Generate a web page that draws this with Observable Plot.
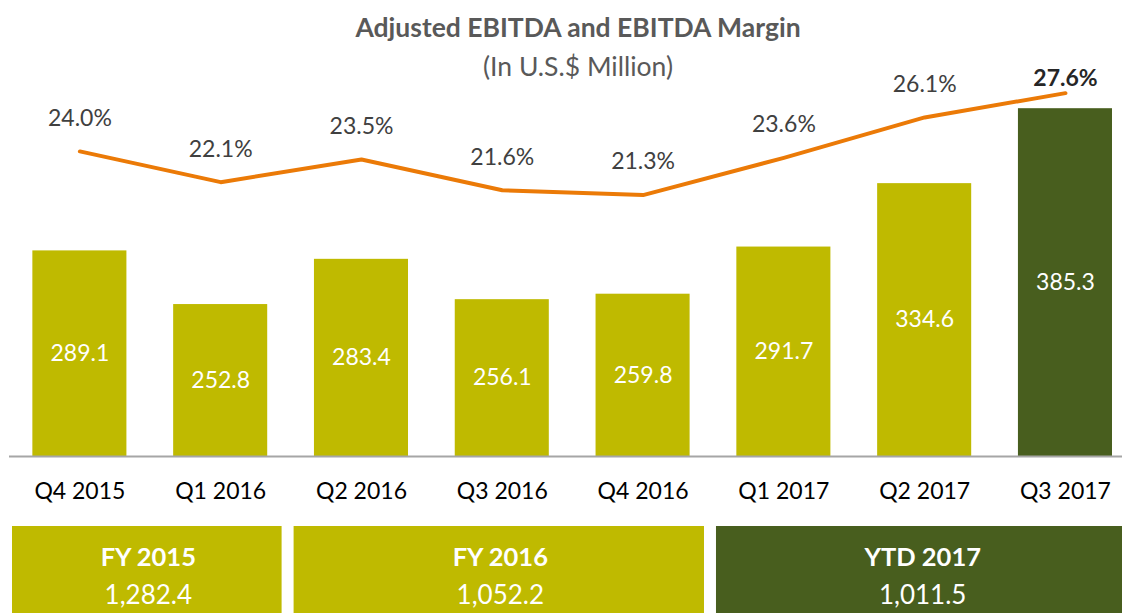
<!DOCTYPE html>
<html>
<head>
<meta charset="utf-8">
<script src="https://cdn.jsdelivr.net/npm/d3@7"></script>
<script src="https://cdn.jsdelivr.net/npm/@observablehq/plot@0.6"></script>
<style>
  html, body { margin: 0; padding: 0; background: #fff; }
  #wrap { position: relative; width: 1122px; height: 613px; overflow: hidden; font-family: Lato, "Open Sans", sans-serif; }
  #title { position: absolute; left: 0; width: 1156px; top: 11px; text-align: center; color: #595959; font-weight: bold; font-size: 26.5px; line-height: 32px; }
  #subtitle { position: absolute; left: 0; width: 1156px; top: 50px; text-align: center; color: #595959; font-size: 26.5px; line-height: 32px; }
  #main, #boxes { display: block; }
  svg { display: block; }
</style>
</head>
<body>
<div id="wrap">
  <div id="main"></div>
  <div id="boxes"></div>
  <div id="title">Adjusted EBITDA and EBITDA Margin</div>
  <div id="subtitle">(In U.S.$ Million)</div>
</div>
<script>
// ---- data ----
const quarters = ["Q4 2015", "Q1 2016", "Q2 2016", "Q3 2016", "Q4 2016", "Q1 2017", "Q2 2017", "Q3 2017"];
const ebitda = [289.1, 252.8, 283.4, 256.1, 259.8, 291.7, 334.6, 385.3];
const margin = [24.0, 22.1, 23.5, 21.6, 21.3, 23.6, 26.1, 27.6];
const highlightQuarter = "Q3 2017";

const periods = ["FY 2015", "FY 2016", "YTD 2017"];
const periodTotals = [1282.4, 1052.2, 1011.5];
// quarters under which each summary box sits
const boxFirstQuarter = ["Q4 2015", "Q2 2016", "Q1 2017"];
const boxLastQuarter = ["Q1 2016", "Q4 2016", "Q3 2017"];
const highlightPeriod = "YTD 2017";

// ---- styles ----
const OLIVE = "#bfba00";
const DARK = "#485e1e";
const ORANGE = "#eb7a07";
const FONT = "Lato, 'Open Sans', sans-serif";

const rows = quarters.map((q, i) => ({quarter: q, ebitda: ebitda[i], margin: margin[i]}));
const base = 150;
// secondary (margin %) axis expressed on the primary EBITDA scale
const marginToY = d3.scaleLinear().domain([20, 28]).range([312.6, 400.2]);

const main = Plot.plot({
  width: 1122,
  height: 526,
  marginTop: 0,
  marginLeft: 9,
  marginRight: 0,
  marginBottom: 70,
  style: {fontFamily: FONT, background: "white", overflow: "visible"},
  x: {domain: quarters, paddingInner: 0.332, paddingOuter: 0.1185, align: 0.7, round: false, label: null},
  y: {domain: [base, 458.5], axis: null},
  marks: [
    Plot.barY(rows, {x: "quarter", y1: base, y2: "ebitda", fill: d => d.quarter === highlightQuarter ? DARK : OLIVE}),
    Plot.ruleY([base], {stroke: "#a6a6a6", strokeWidth: 2}),
    Plot.axisX({tickSize: 0, tickPadding: 26, fontSize: 23, fill: "#000", label: null}),
    Plot.text(rows, {x: "quarter", y: d => (base + d.ebitda) / 2, text: d => d.ebitda.toFixed(1), fill: "white", fontSize: 23}),
    Plot.line(rows, {x: "quarter", y: d => marginToY(d.margin), stroke: ORANGE, strokeWidth: 4, strokeLinecap: "round", strokeLinejoin: "round"}),
    Plot.text(rows.filter(d => d.quarter !== highlightQuarter), {x: "quarter", y: d => marginToY(d.margin), dy: -33, text: d => d.margin.toFixed(1) + "%", fill: "#404040", fontSize: 23}),
    Plot.text(rows.filter(d => d.quarter === highlightQuarter), {x: "quarter", y: d => marginToY(d.margin), dy: -15, text: d => d.margin.toFixed(1) + "%", fill: "#262626", fontSize: 23, fontWeight: "bold"})
  ]
});
document.getElementById("main").append(main);

const prow = periods.map((p, i) => ({
  period: p,
  total: periodTotals[i],
  x1: quarters.indexOf(boxFirstQuarter[i]) - 0.5,
  x2: quarters.indexOf(boxLastQuarter[i]) + 0.5
}));

const boxes = Plot.plot({
  width: 1122,
  height: 87,
  marginTop: 0,
  marginBottom: 0,
  marginLeft: 9,
  marginRight: 0,
  style: {fontFamily: FONT, background: "white"},
  x: {domain: [-0.5, 7.405], axis: null},
  y: {axis: null},
  marks: [
    Plot.rect(prow, {x1: "x1", x2: "x2", fill: d => d.period === highlightPeriod ? DARK : OLIVE, insetLeft: 3, insetRight: 9}),
    Plot.text(prow, {x: d => (d.x1 + d.x2) / 2, frameAnchor: "top", lineAnchor: "middle", dy: 31, text: "period", fill: "white", fontSize: 25.5, fontWeight: "bold", dx: -2}),
    Plot.text(prow, {x: d => (d.x1 + d.x2) / 2, frameAnchor: "top", lineAnchor: "middle", dy: 69, text: d => d3.format(",.1f")(d.total), fill: "white", fontSize: 26, dx: -2})
  ]
});
document.getElementById("boxes").append(boxes);
</script>
</body>
</html>
